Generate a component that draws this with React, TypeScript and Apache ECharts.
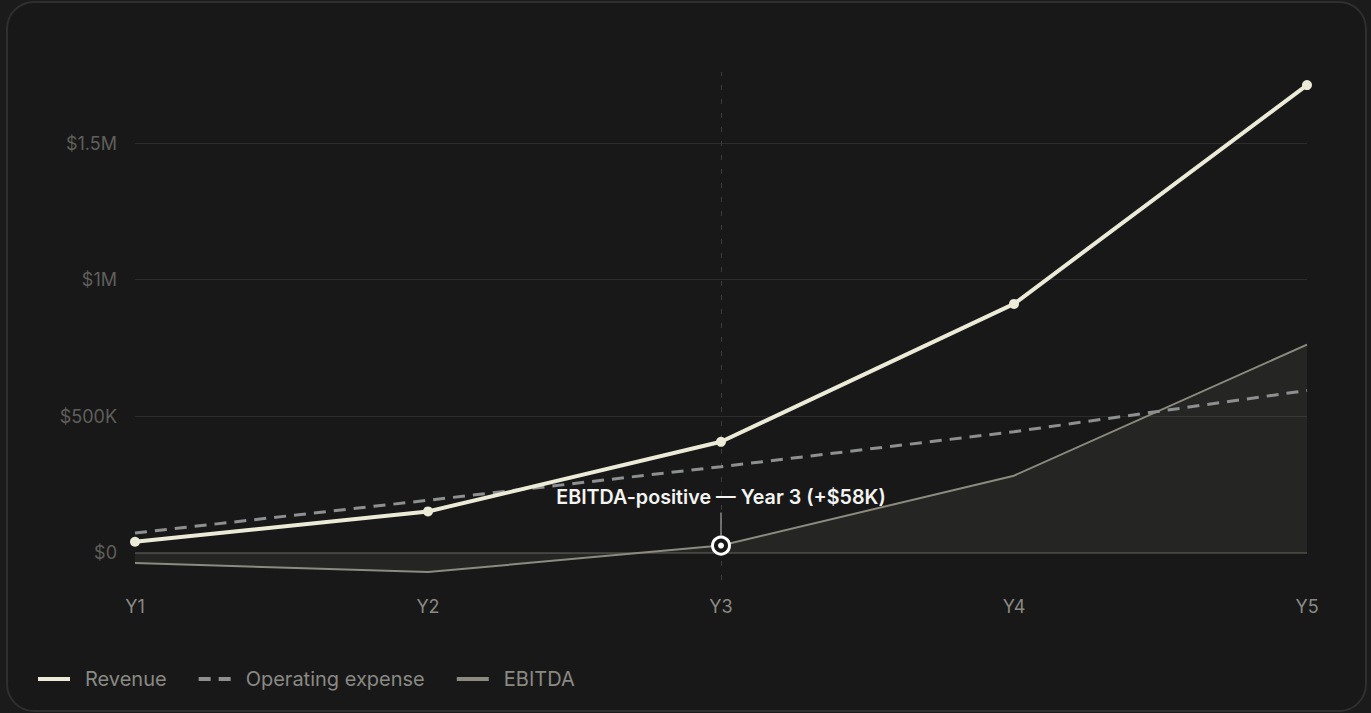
import React, { useEffect, useRef } from "react";
import * as echarts from "echarts";

const categories = ["Y1", "Y2", "Y3", "Y4", "Y5"];
const revenue = [40000, 151000, 406000, 911000, 1712000];
const opex = [72000, 192000, 315000, 443000, 594000];
const ebitda = [-38000, -71000, 26000, 282000, 762000];
const yTicks = [0, 500000, 1000000, 1500000];
const annotationIndex = 2;
const annotationText = "EBITDA-positive — Year 3 (+$58K)";
const seriesNames = ["Revenue", "Operating expense", "EBITDA"];

const fmt = (v: number) => {
  if (v === 0) return "$0";
  if (v >= 1000000) return "$" + v / 1000000 + "M";
  return "$" + v / 1000 + "K";
};

export default function App() {
  const ref = useRef<HTMLDivElement>(null);
  useEffect(() => {
    document.body.style.margin = "0";
    document.body.style.background = "#1b1b1b";
    const chart = echarts.init(ref.current!, null, { renderer: "svg" });
    const font = "Inter";
    chart.setOption({
      animation: false,
      backgroundColor: "transparent",
      grid: { left: 135, right: 64, top: 72, bottom: 133, containLabel: false },
      xAxis: {
        type: "category",
        data: categories,
        boundaryGap: false,
        axisLine: { show: false, onZero: false },
        axisTick: { show: false },
        axisLabel: { color: "#8a8a85", fontSize: 18, fontFamily: font, margin: 17 },
        splitLine: { show: false },
      },
      yAxis: {
        type: "value",
        min: -100000,
        max: 1760000,
        interval: 100000,
        axisLine: { show: false },
        axisTick: { show: false },
        splitLine: { show: false },
        axisLabel: {
          color: "#5f5f5b",
          fontSize: 18,
          fontFamily: font,
          margin: 18,
          formatter: (v: number) => (yTicks.indexOf(v) >= 0 ? fmt(v) : ""),
        },
      },
      legend: {
        left: 38,
        top: 669,
        padding: 0,
        itemWidth: 32,
        itemHeight: 4,
        itemGap: 32,
        textStyle: { color: "#8a8a85", fontSize: 20, fontFamily: font, padding: [0, 0, 0, 10] },
        itemStyle: { borderWidth: 0 },
        data: [
          { name: seriesNames[0], icon: "path://M0,0H32V4H0Z" },
          { name: seriesNames[1], icon: "path://M0,0H12V4H0Z M20,0H32V4H20Z" },
          { name: seriesNames[2], icon: "path://M0,0H32V4H0Z" },
        ],
      },
      series: [
        {
          name: seriesNames[2],
          type: "line",
          data: ebitda,
          symbol: "none",
          z: 2,
          lineStyle: { color: "#8b8b7f", width: 2 },
          itemStyle: { color: "#8b8b7f" },
          areaStyle: { color: "rgba(255,255,240,0.085)" },
          markLine: {
            silent: true,
            symbol: "none",
            z: 1,
            label: { show: false },
            data: [
              ...yTicks.map((v) => ({
                yAxis: v,
                lineStyle: { color: v === 0 ? "#4a4a46" : "#2c2c2c", width: v === 0 ? 1.5 : 1, type: "solid" },
              })),
              { xAxis: annotationIndex, lineStyle: { color: "#3c3c3c", width: 1, type: [5, 9] } },
            ],
          },
        },
        {
          name: seriesNames[1],
          type: "line",
          data: opex,
          symbol: "none",
          z: 3,
          lineStyle: { color: "#8e8f90", width: 3, type: [12, 8] },
          itemStyle: { color: "#8e8f90" },
        },
        {
          name: seriesNames[0],
          type: "line",
          data: revenue,
          symbol: "circle",
          symbolSize: 10,
          z: 4,
          lineStyle: { color: "#ecebd8", width: 4 },
          itemStyle: { color: "#ecebd8" },
        },
        {
          type: "custom",
          z: 10,
          silent: true,
          data: [[annotationIndex, ebitda[annotationIndex]]],
          renderItem: (params: any, api: any) => {
            const p = api.coord([api.value(0), api.value(1)]);
            return {
              type: "group",
              children: [
                {
                  type: "line",
                  shape: { x1: p[0], y1: p[1] - 33, x2: p[0], y2: p[1] - 10 },
                  style: { stroke: "#8a8a8a", lineWidth: 1.5 },
                },
                {
                  type: "circle",
                  shape: { cx: p[0], cy: p[1], r: 8.5 },
                  style: { fill: "#181818", stroke: "#ffffff", lineWidth: 3 },
                },
                {
                  type: "circle",
                  shape: { cx: p[0], cy: p[1], r: 3 },
                  style: { fill: "#ffffff" },
                },
                {
                  type: "text",
                  x: p[0],
                  y: p[1] - 49,
                  style: {
                    text: annotationText,
                    fill: "#f4f4f2",
                    font: `600 19.7px ${font}`,
                    align: "center",
                    verticalAlign: "middle",
                  },
                },
              ],
            };
          },
        },
      ],
    });
    return () => chart.dispose();
  }, []);
  return (
    <div style={{ position: "relative", width: 1371, height: 713, overflow: "hidden" }}>
      <div
        style={{
          position: "absolute",
          left: 6,
          top: 1,
          width: 1361,
          height: 711,
          boxSizing: "border-box",
          border: "2px solid #2f2f2f",
          borderRadius: 28,
          background: "#181818",
        }}
      />
      <div ref={ref} style={{ position: "absolute", left: 0, top: 0, width: 1371, height: 713 }} />
    </div>
  );
}
